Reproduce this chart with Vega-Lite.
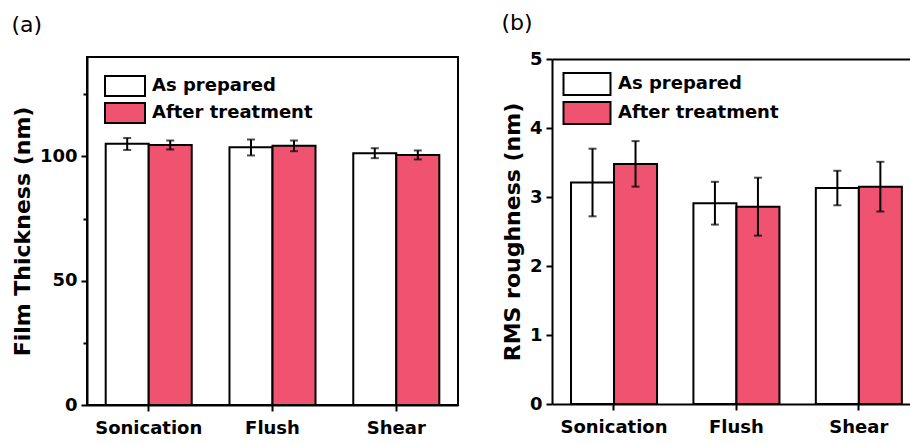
{
  "$schema": "https://vega.github.io/schema/vega-lite/v6.json",
  "padding": {"left": 10, "top": 12, "right": 0, "bottom": 0},
  "spacing": 42,
  "center": true,
  "resolve": {"scale": {"fill": "independent"}, "legend": {"fill": "independent"}},
  "config": {
    "font": "DejaVu Sans",
    "view": {"stroke": "black", "strokeWidth": 2},
    "axis": {
      "domainColor": "black", "domainWidth": 2,
      "tickColor": "black", "tickWidth": 2, "tickSize": 6,
      "labelFont": "DejaVu Sans", "labelFontWeight": "bold", "labelFontSize": 18, "labelColor": "black",
      "titleFont": "DejaVu Sans", "titleFontWeight": "bold", "titleFontSize": 22, "titleColor": "black",
      "grid": false
    },
    "axisX": {"labelAngle": 0, "labelPadding": 8},
    "axisY": {"labelPadding": 4, "titlePadding": 5},
    "legend": {
      "orient": "none", "title": null,
      "labelFont": "DejaVu Sans", "labelFontWeight": "bold", "labelFontSize": 18, "labelColor": "black",
      "labelLimit": 0, "symbolStrokeColor": "black", "symbolStrokeWidth": 2, "symbolOpacity": 1
    },
    "title": {"font": "DejaVu Sans", "fontWeight": "normal", "fontSize": 22, "color": "black", "anchor": "start", "frame": "bounds"}
  },
  "hconcat": [
    {
      "width": 371,
      "height": 348,
      "title": {"text": "(a)", "offset": 20},
      "data": {"values": [
        {"method": "Sonication", "cond": "As prepared", "value": 105.1, "lo": 102.6, "hi": 107.4},
        {"method": "Sonication", "cond": "After treatment", "value": 104.6, "lo": 102.8, "hi": 106.4},
        {"method": "Flush", "cond": "As prepared", "value": 103.7, "lo": 100.4, "hi": 106.8},
        {"method": "Flush", "cond": "After treatment", "value": 104.3, "lo": 102.1, "hi": 106.4},
        {"method": "Shear", "cond": "As prepared", "value": 101.3, "lo": 99.3, "hi": 103.3},
        {"method": "Shear", "cond": "After treatment", "value": 100.6, "lo": 98.8, "hi": 102.4}
      ]},
      "encoding": {
        "x": {"field": "method", "type": "nominal", "sort": ["Sonication", "Flush", "Shear"],
              "scale": {"paddingInner": 0.305, "paddingOuter": 0.151},
              "axis": {"title": null}},
        "xOffset": {"field": "cond", "type": "nominal", "sort": ["As prepared", "After treatment"]}
      },
      "layer": [
        {
          "mark": {"type": "bar", "stroke": "black", "strokeWidth": 2},
          "encoding": {
            "y": {"field": "value", "type": "quantitative", "title": "Film Thickness (nm)",
                  "scale": {"domain": [0, 140], "nice": false, "zero": true},
                  "axis": {"values": [0, 25, 50, 75, 100, 125],
                           "labelExpr": "datum.value % 50 === 0 ? datum.label : ''",
                           "tickSize": {"condition": {"test": "datum.value % 50 === 0", "value": 6}, "value": 4}}},
            "fill": {"field": "cond", "type": "nominal",
                     "scale": {"domain": ["As prepared", "After treatment"], "range": ["white", "#EF536F"]},
                     "legend": {"legendX": 27, "legendY": 18, "labelOffset": 16, "rowPadding": -1,
                                "symbolType": "M-2,-1H2V1H-2Z", "symbolSize": 400}}
          }
        },
        {
          "mark": {"type": "rule", "color": "black", "strokeWidth": 2},
          "encoding": {"y": {"field": "lo", "type": "quantitative", "title": "Film Thickness (nm)"}, "y2": {"field": "hi"}}
        },
        {
          "mark": {"type": "tick", "color": "black", "thickness": 2, "size": 8},
          "encoding": {"y": {"field": "lo", "type": "quantitative", "title": "Film Thickness (nm)"}}
        },
        {
          "mark": {"type": "tick", "color": "black", "thickness": 2, "size": 8},
          "encoding": {"y": {"field": "hi", "type": "quantitative", "title": "Film Thickness (nm)"}}
        }
      ]
    },
    {
      "width": 360,
      "height": 345,
      "view": {"stroke": null},
      "title": {"text": "(b)", "offset": 15},
      "data": {"values": [
        {"method": "Sonication", "cond": "As prepared", "value": 3.21, "lo": 2.72, "hi": 3.70},
        {"method": "Sonication", "cond": "After treatment", "value": 3.48, "lo": 3.15, "hi": 3.81},
        {"method": "Flush", "cond": "As prepared", "value": 2.91, "lo": 2.60, "hi": 3.22},
        {"method": "Flush", "cond": "After treatment", "value": 2.86, "lo": 2.44, "hi": 3.28},
        {"method": "Shear", "cond": "As prepared", "value": 3.13, "lo": 2.88, "hi": 3.38},
        {"method": "Shear", "cond": "After treatment", "value": 3.15, "lo": 2.79, "hi": 3.51}
      ]},
      "encoding": {
        "xOffset": {"field": "cond", "type": "nominal", "sort": ["As prepared", "After treatment"]}
      },
      "resolve": {"axis": {"x": "independent"}},
      "layer": [
        {
          "mark": {"type": "bar", "stroke": "black", "strokeWidth": 2},
          "encoding": {
            "x": {"field": "method", "type": "nominal", "sort": ["Sonication", "Flush", "Shear"],
                  "scale": {"paddingInner": 0.298, "paddingOuter": 0.1194, "align": 0.65},
                  "axis": {"title": null, "orient": "bottom"}},
            "y": {"field": "value", "type": "quantitative", "title": "RMS roughness (nm)",
                  "scale": {"domain": [0, 5], "nice": false, "zero": true},
                  "axis": {"values": [0, 0.5, 1, 1.5, 2, 2.5, 3, 3.5, 4, 4.5, 5], "format": "~g",
                           "labelExpr": "datum.value % 1 === 0 ? datum.label : ''",
                           "tickSize": {"condition": {"test": "datum.value % 1 === 0", "value": 6}, "value": 4}}},
            "fill": {"field": "cond", "type": "nominal",
                     "scale": {"domain": ["As prepared", "After treatment"], "range": ["white", "#EF536F"]},
                     "legend": {"legendX": 22, "legendY": 12, "labelOffset": 18, "rowPadding": -6,
                                "symbolType": "M-2,-0.94H2V0.94H-2Z", "symbolSize": 552}}
          }
        },
        {
          "mark": {"type": "rule", "color": "black", "strokeWidth": 2},
          "encoding": {
            "x": {"field": "method", "type": "nominal", "sort": ["Sonication", "Flush", "Shear"], "axis": null},
            "y": {"field": "lo", "type": "quantitative", "title": "RMS roughness (nm)"}, "y2": {"field": "hi"}}
        },
        {
          "mark": {"type": "tick", "color": "black", "thickness": 2, "size": 8},
          "encoding": {
            "x": {"field": "method", "type": "nominal", "sort": ["Sonication", "Flush", "Shear"], "axis": null},
            "y": {"field": "lo", "type": "quantitative", "title": "RMS roughness (nm)"}}
        },
        {
          "mark": {"type": "tick", "color": "black", "thickness": 2, "size": 8},
          "encoding": {
            "x": {"field": "method", "type": "nominal", "sort": ["Sonication", "Flush", "Shear"],
                  "axis": {"orient": "top", "title": null, "labels": false, "ticks": false, "domain": true}},
            "y": {"field": "hi", "type": "quantitative", "title": "RMS roughness (nm)"}
          }
        }
      ]
    }
  ]
}
